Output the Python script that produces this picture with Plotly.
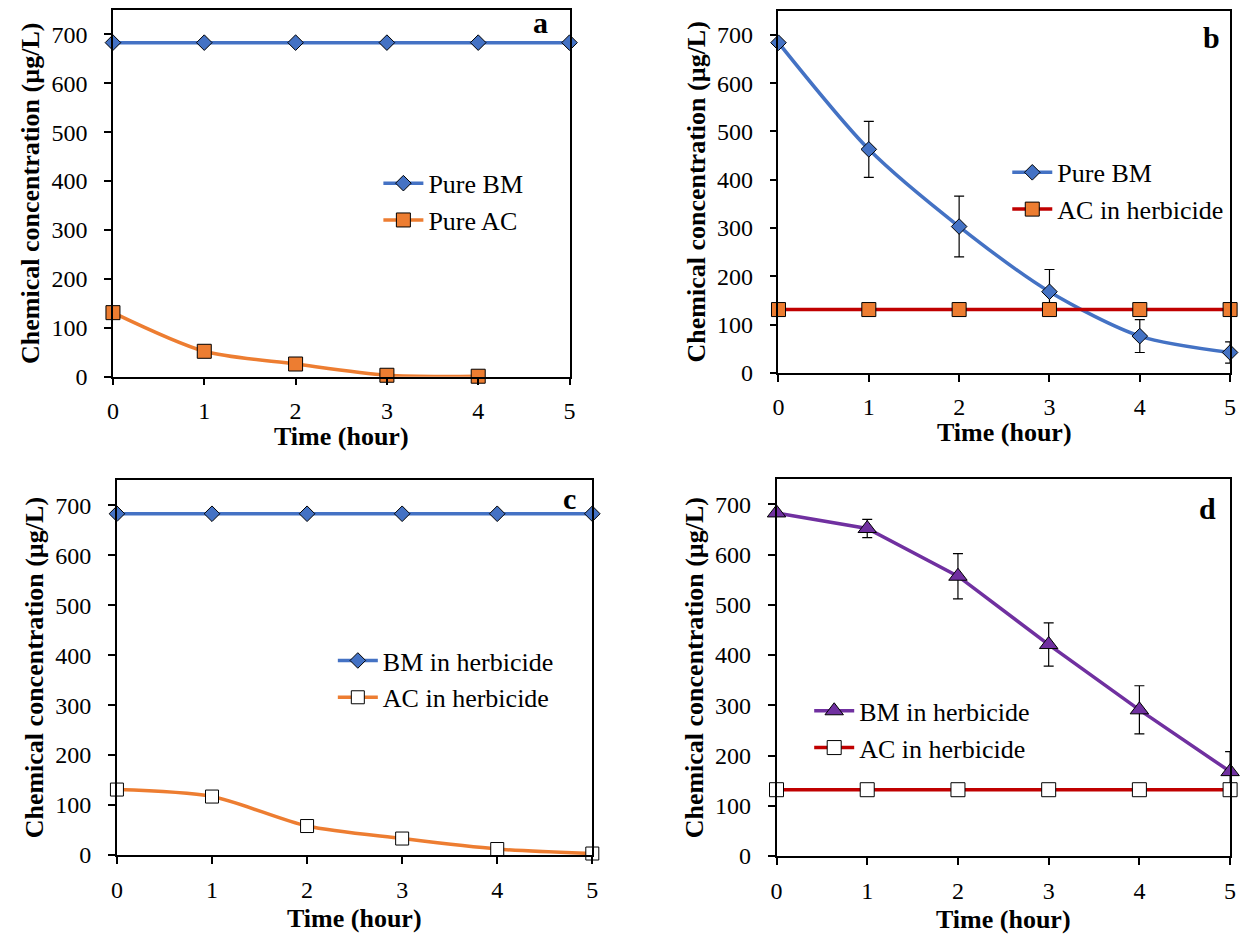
import plotly.graph_objects as go

W, H = 1247, 941

# ---------------- data ----------------
time = [0, 1, 2, 3, 4, 5]

# panel a
a_bm = [683, 683, 683, 683, 683, 683]
a_ac_time = [0, 1, 2, 3, 4]
a_ac = [131, 52, 26, 3, 1]

# panel b
b_bm = [684, 463, 303, 168, 76, 42]
b_bm_err = [0, 58, 63, 46, 34, 22]
b_ac = [131, 131, 131, 131, 131, 131]

# panel c
c_bm = [683, 683, 683, 683, 683, 683]
c_ac = [131, 117, 58, 33, 12, 3]
c_ac_err = [0, 7, 7, 6, 3, 3]

# panel d
d_bm = [683, 652, 557, 421, 291, 168]
d_bm_err = [0, 18, 45, 43, 48, 40]
d_ac = [132, 132, 132, 132, 132, 132]

x_ticks = [0, 1, 2, 3, 4, 5]
y_ticks = [0, 100, 200, 300, 400, 500, 600, 700]
y_range = [0, 750]

BLUE = "#4472C4"
ORANGE = "#ED7D31"
RED = "#C00000"
PURPLE = "#7030A0"
FONT = "Liberation Serif, Times New Roman, serif"

# ---------------- panel geometry (pixels) ----------------
panels = {
    "a": dict(x0=108, x1=569, y0=10, y1=382, xt=443),
    "b": dict(x0=780, x1=1236, y0=11, y1=378, xt=439),
    "c": dict(x0=112, x1=592, y0=487, y1=867, xt=931),
    "d": dict(x0=778, x1=1236, y0=486, y1=868, xt=932),
}

def xdom(p):
    return [p["x0"] / W, p["x1"] / W]

def ydom(p):
    return [1 - p["y1"] / H, 1 - p["y0"] / H]

fig = go.Figure()

def add(x, y, color, symbol, name, xa, ya, leg, fill=None, err=None, size=12, shape="spline"):
    fig.add_trace(go.Scatter(
        x=x, y=y, name=name, mode="lines+markers",
        line=dict(color=color, width=3.5, shape=shape, smoothing=0.8),
        marker=dict(symbol=symbol, size=size, color=fill if fill else color,
                    line=dict(color="black", width=1)),
        error_y=(dict(type="data", array=err, visible=True, color="black",
                      thickness=1.2, width=5) if err is not None else None),
        xaxis=xa, yaxis=ya, legend=leg, cliponaxis=False,
    ))

# a
add(time, a_bm, BLUE, "diamond", "Pure BM", "x", "y", "legend", size=12)
add(a_ac_time, a_ac, ORANGE, "square", "Pure AC", "x", "y", "legend", size=14)
# b
add(time, b_bm, BLUE, "diamond", "Pure BM", "x2", "y2", "legend2", err=b_bm_err, size=12)
add(time, b_ac, RED, "square", "AC in herbicide", "x2", "y2", "legend2", fill=ORANGE, size=14, shape="linear")
# c
add(time, c_bm, BLUE, "diamond", "BM in herbicide", "x3", "y3", "legend3", size=12)
add(time, c_ac, ORANGE, "square", "AC in herbicide", "x3", "y3", "legend3", fill="white", err=c_ac_err, size=13)
# d
add(time, d_bm, PURPLE, "triangle-up", "BM in herbicide", "x4", "y4", "legend4", err=d_bm_err, size=16, shape="linear")
add(time, d_ac, RED, "square", "AC in herbicide", "x4", "y4", "legend4", fill="white", size=14, shape="linear")

axis_common = dict(
    showline=True, linecolor="black", linewidth=1.5, mirror=True,
    ticks="outside", ticklen=7, tickwidth=1.5, tickcolor="black",
    showgrid=False, zeroline=False,
    tickfont=dict(family=FONT, size=24, color="black"),
)

layout = dict(
    width=W, height=H,
    margin=dict(l=0, r=0, t=0, b=0),
    paper_bgcolor="white", plot_bgcolor="white",
    font=dict(family=FONT, color="black"),
    showlegend=True,
)

names = ["a", "b", "c", "d"]
for i, key in enumerate(names):
    sfx = "" if i == 0 else str(i + 1)
    p = panels[key]
    layout["xaxis" + sfx] = dict(
        axis_common, domain=xdom(p), range=[0, 5], tickvals=x_ticks,
        anchor="y" + sfx, ticklabelstandoff=5,
    )
    layout["yaxis" + sfx] = dict(
        axis_common, domain=ydom(p), range=y_range, tickvals=y_ticks,
        anchor="x" + sfx, ticklabelstandoff=12,
        title=dict(text="<b>Chemical concentration (µg/L)</b>",
                   font=dict(family=FONT, size=26, color="black"), standoff=4),
    )

legend_pos = {
    "legend": (419, 184),
    "legend2": (1054, 173),
    "legend3": (373, 668),
    "legend4": (854, 719),
}
for lg, (tx, ty) in legend_pos.items():
    layout[lg] = dict(
        x=(tx - 43) / W, y=1 - (ty - 22) / H, xanchor="left", yanchor="top",
        bgcolor="rgba(0,0,0,0)", borderwidth=0,
        font=dict(family=FONT, size=26, color="black"),
        tracegroupgap=0, itemwidth=40,
    )

fig.update_layout(**layout)

# x-axis titles
for key in names:
    p = panels[key]
    fig.add_annotation(
        x=(p["x0"] + p["x1"]) / 2 / W, y=1 - p["xt"] / H, xref="paper", yref="paper",
        text="<b>Time (hour)</b>", showarrow=False,
        font=dict(family=FONT, size=26, color="black"),
        xanchor="center", yanchor="middle",
    )

# panel letters
letters = {"a": (540, 23), "b": (1217, 38), "c": (569, 505), "d": (1213, 516)}
for k, (px, py) in letters.items():
    fig.add_annotation(
        x=px / W, y=1 - py / H, xref="paper", yref="paper",
        text=f"<b>{k}</b>", showarrow=False,
        font=dict(family=FONT, size=30, color="black"),
        xanchor="center", yanchor="middle",
    )

fig.write_html("out.html", config={"displayModeBar": False},
               post_script="document.body.style.margin='0px';document.body.style.overflow='hidden';")
